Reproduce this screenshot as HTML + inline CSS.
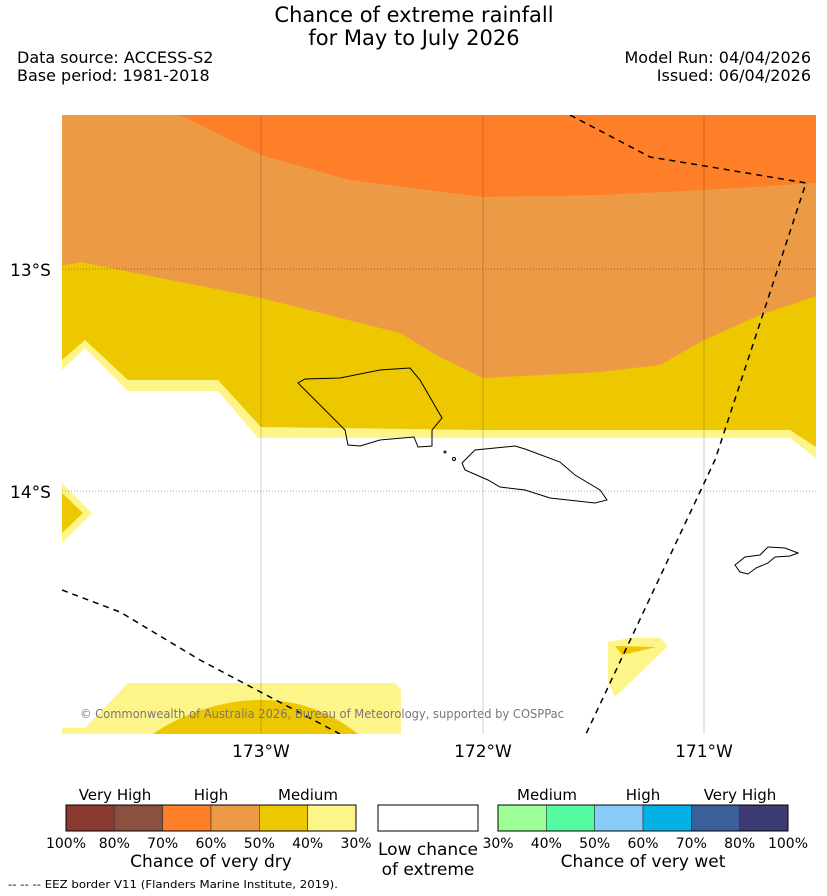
<!DOCTYPE html>
<html><head><meta charset="utf-8"><style>
html,body{margin:0;padding:0;background:#fff;width:827px;height:896px;overflow:hidden}
svg{display:block;font-family:"DejaVu Sans","Liberation Sans",sans-serif}
</style></head><body>
<svg id="s" width="827" height="896" viewBox="0 0 827 896">
<text x="414" y="22" font-size="21" text-anchor="middle">Chance of extreme rainfall</text>
<text x="414" y="45" font-size="21" text-anchor="middle">for May to July 2026</text>
<text x="17" y="63" font-size="16">Data source: ACCESS-S2</text>
<text x="17" y="81" font-size="16">Base period: 1981-2018</text>
<text x="811" y="63" font-size="16" text-anchor="end">Model Run: 04/04/2026</text>
<text x="811" y="81" font-size="16" text-anchor="end">Issued: 06/04/2026</text>
<defs><clipPath id="mc"><rect x="62" y="115" width="754" height="619"/></clipPath></defs>
<g clip-path="url(#mc)">
<rect x="62" y="115" width="754" height="619" fill="#fff"/>
<polygon fill="#fdf48a" points="62,115 816,115 816,458 790,438 258,438 218,391 128,391 85,348 62,370"/>
<polygon fill="#edc700" points="62,115 816,115 816,447 790,430 704,430 483,430 261,427 218,380 128,380 85,340 62,360"/>
<polygon fill="#ec9a45" points="62,115 816,115 816,296 760,315 704,340 660,365 600,372 483,378 440,357 400,333 261,298 80,262 62,266"/>
<polygon fill="#fe7f27" points="180,115 816,115 816,183 704,190 600,195 483,197 350,180 261,155"/>
<polygon fill="#fdf48a" points="62,483 92,513 62,543"/>
<polygon fill="#edc700" points="62,493 83,513 62,533"/>
<polygon fill="#fdf48a" points="608,642 630,638 660,638 668,646 615,697 608,682"/>
<polygon fill="#edc700" points="615,646 656,647 622,655"/>
<polygon fill="#fdf48a" points="62,734 62,728 85,728 128,683 395,683 401,690 401,734"/>
<path fill="#edc700" d="M153,734 C180,715 220,700 260,700 C300,700 330,712 358,734 Z"/>
<g stroke="#000" stroke-width="0.6" stroke-opacity="0.3">
<line x1="261" y1="115" x2="261" y2="734"/><line x1="483" y1="115" x2="483" y2="734"/><line x1="704" y1="115" x2="704" y2="734"/>
<line x1="62" y1="269" x2="816" y2="269" stroke-dasharray="1,2" stroke-opacity="0.7"/><line x1="62" y1="491" x2="816" y2="491" stroke-dasharray="1,2" stroke-opacity="0.7"/>
</g>
<g fill="none" stroke="#000" stroke-width="1">
<polygon points="298,383 305,379 340,378 380,370 410,368 420,380 442,418 432,430 432,446 418,447 414,437 380,440 360,446 348,445 345,430 310,395"/>
<polygon points="462,463 475,450 515,446 525,449 560,462 575,475 600,490 607,500 595,503 550,498 525,490 500,487 488,480 465,470"/>
<polygon points="735,565 745,557 760,555 768,547 785,548 798,553 790,556 775,557 768,563 756,568 748,574 740,572"/>
<circle cx="445" cy="452" r="1"/><circle cx="454" cy="459" r="1.5"/>
</g>
<g fill="none" stroke="#000" stroke-width="1.5" stroke-dasharray="6,5">
<polyline points="570,115 650,157 705,166 806,183 715,460 586,734"/>
<polyline points="62,590 120,612 200,660 340,734"/>
</g>
<text x="80" y="718" font-size="12" fill="#777" textLength="484" lengthAdjust="spacingAndGlyphs">© Commonwealth of Australia 2026, Bureau of Meteorology, supported by COSPPac</text>
</g>
<text x="10" y="276" font-size="17">13°S</text>
<text x="10" y="498" font-size="17">14°S</text>
<text x="261" y="757" font-size="17" text-anchor="middle">173°W</text>
<text x="483" y="757" font-size="17" text-anchor="middle">172°W</text>
<text x="704" y="757" font-size="17" text-anchor="middle">171°W</text>
<g id="cb"></g>
<rect x="378" y="805" width="100" height="26" fill="#fff" stroke="#000"/>
<text x="428" y="855" font-size="17" text-anchor="middle">Low chance</text>
<text x="428" y="875" font-size="17" text-anchor="middle">of extreme</text>
<text x="211" y="867" font-size="17" text-anchor="middle">Chance of very dry</text>
<text x="643" y="867" font-size="17" text-anchor="middle">Chance of very wet</text>
<text x="115" y="800" font-size="15" text-anchor="middle">Very High</text>
<text x="211" y="800" font-size="15" text-anchor="middle">High</text>
<text x="308" y="800" font-size="15" text-anchor="middle">Medium</text>
<text x="547" y="800" font-size="15" text-anchor="middle">Medium</text>
<text x="643" y="800" font-size="15" text-anchor="middle">High</text>
<text x="740" y="800" font-size="15" text-anchor="middle">Very High</text>
<text x="8" y="888" font-size="11" textLength="330" lengthAdjust="spacingAndGlyphs">--  --  -- EEZ border V11 (Flanders Marine Institute, 2019).</text>
</svg>
<script>
const dryColors=["#8b3a32","#8b5040","#fe7f27","#ec9a45","#edc700","#fdf48a"];
const dryTicks=["100%","80%","70%","60%","50%","40%","30%"];
const wetColors=["#9cfe94","#55fba0","#87cbf9","#02b2e6","#3a5f9a","#3d3b73"];
const wetTicks=["30%","40%","50%","60%","70%","80%","100%"];
const NS="http://www.w3.org/2000/svg";
const g=document.getElementById('cb');
function bar(x0,colors,ticks,name){
  const w=290/colors.length;
  colors.forEach((c,i)=>{
    const r=document.createElementNS(NS,'rect');
    r.setAttribute('x',x0+i*w);r.setAttribute('y',805);r.setAttribute('width',w);r.setAttribute('height',26);
    r.setAttribute('fill',c);r.setAttribute('stroke','#333');r.setAttribute('stroke-width','0.6');
    
    
    g.appendChild(r);
  });
  const o=document.createElementNS(NS,'rect');
  o.setAttribute('x',x0);o.setAttribute('y',805);o.setAttribute('width',290);o.setAttribute('height',26);
  o.setAttribute('fill','none');o.setAttribute('stroke','#000');
  
  
  g.appendChild(o);
  ticks.forEach((t,i)=>{
    const tx=document.createElementNS(NS,'text');
    tx.setAttribute('x',x0+i*w);tx.setAttribute('y',848);tx.setAttribute('font-size','14');tx.setAttribute('text-anchor','middle');
    tx.textContent=t;
    
    
    g.appendChild(tx);
  });
}
bar(66,dryColors,dryTicks,'dry-colorbar');
bar(498,wetColors,wetTicks,'wet-colorbar');
</script>
</body></html>
